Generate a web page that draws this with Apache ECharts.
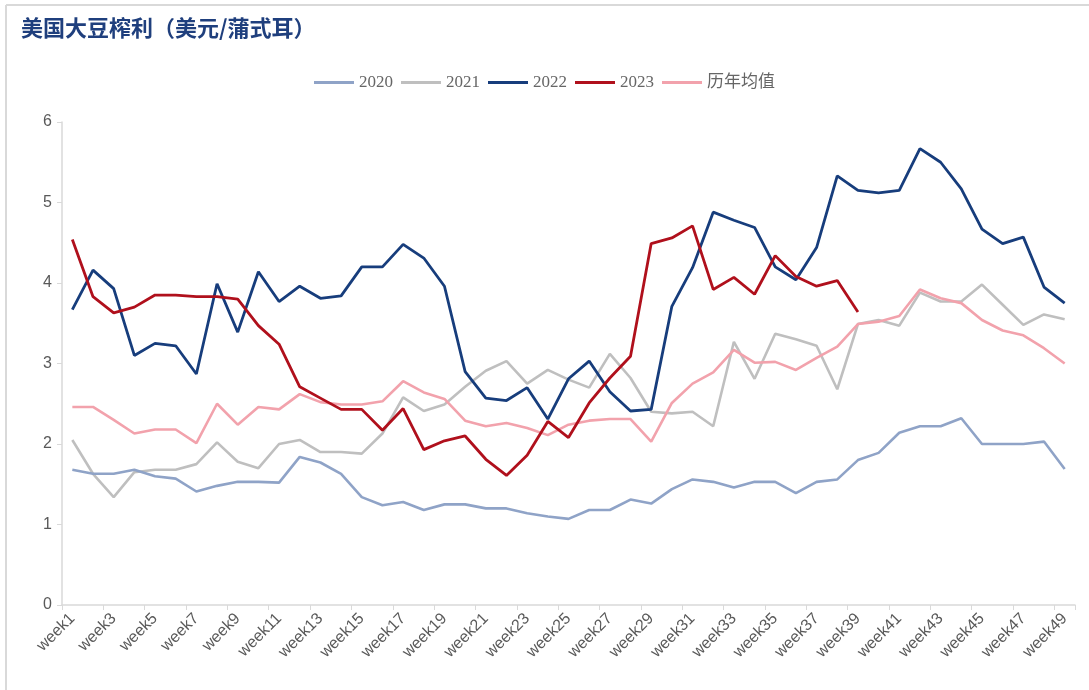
<!DOCTYPE html>
<html>
<head>
<meta charset="utf-8">
<script src="https://cdn.jsdelivr.net/npm/echarts@6/dist/echarts.min.js"></script>
<style>
html,body{margin:0;padding:0;background:#fff;}
#c{width:1089px;height:690px;}
</style>
</head>
<body>
<div id="c"></div>
<script>
const categories = Array.from({length:49}, (_, i) => 'week' + (i + 1));
const yTicks = [0, 1, 2, 3, 4, 5, 6];
const legendNames = ['2020', '2021', '2022', '2023', '历年均值'];

const s2020 = [1.68,1.63,1.63,1.68,1.60,1.57,1.41,1.48,1.53,1.53,1.52,1.84,1.77,1.63,1.34,1.24,1.28,1.18,1.25,1.25,1.20,1.20,1.14,1.10,1.07,1.18,1.18,1.31,1.26,1.44,1.56,1.53,1.46,1.53,1.53,1.39,1.53,1.56,1.80,1.89,2.14,2.22,2.22,2.32,2.00,2.00,2.00,2.03,1.69];
const s2021 = [2.05,1.63,1.34,1.65,1.68,1.68,1.75,2.02,1.78,1.70,2.00,2.05,1.90,1.90,1.88,2.13,2.58,2.41,2.49,2.71,2.91,3.03,2.75,2.92,2.80,2.70,3.12,2.82,2.40,2.38,2.40,2.22,3.27,2.81,3.37,3.30,3.22,2.68,3.49,3.54,3.47,3.88,3.77,3.77,3.98,3.73,3.48,3.61,3.55];
const s2022 = [3.67,4.16,3.93,3.10,3.25,3.22,2.87,3.99,3.39,4.14,3.77,3.96,3.81,3.84,4.20,4.20,4.48,4.31,3.96,2.90,2.57,2.54,2.70,2.31,2.81,3.03,2.65,2.41,2.43,3.71,4.19,4.88,4.78,4.69,4.20,4.04,4.44,5.33,5.15,5.12,5.15,5.67,5.50,5.17,4.67,4.49,4.57,3.95,3.75];
const s2023 = [4.54,3.83,3.63,3.70,3.85,3.85,3.83,3.83,3.80,3.47,3.24,2.71,2.57,2.43,2.43,2.17,2.44,1.93,2.04,2.10,1.81,1.61,1.86,2.28,2.08,2.51,2.82,3.09,4.49,4.56,4.71,3.92,4.07,3.86,4.34,4.08,3.96,4.03,3.64];
const sAvg = [2.46,2.46,2.30,2.13,2.18,2.18,2.01,2.50,2.24,2.46,2.43,2.62,2.52,2.49,2.49,2.53,2.78,2.64,2.56,2.29,2.22,2.26,2.20,2.11,2.24,2.29,2.31,2.31,2.03,2.51,2.75,2.89,3.17,3.01,3.02,2.92,3.07,3.21,3.49,3.52,3.59,3.92,3.81,3.75,3.54,3.41,3.35,3.19,3.00];

const colors = ['#8fa3c7', '#bfbfbf', '#173d7c', '#b0101c', '#f2a2ac'];
const seriesData = [s2020, s2021, s2022, s2023, sAvg];

const chart = echarts.init(document.getElementById('c'), null, {renderer: 'canvas'});
chart.setOption({
  backgroundColor: '#fff',
  animation: false,
  title: {
    text: '美国大豆榨利（美元/蒲式耳）',
    left: 16, top: 12,
    textStyle: {color: '#1f3f7d', fontSize: 22, fontWeight: 'bold', fontFamily: 'Noto Sans CJK SC'}
  },
  graphic: [
    {type: 'line', shape: {x1: 6, y1: 5, x2: 1089, y2: 5}, style: {stroke: '#d9d9d9', lineWidth: 2}},
    {type: 'line', shape: {x1: 6, y1: 5, x2: 6, y2: 690}, style: {stroke: '#d9d9d9', lineWidth: 2}}
  ],
  legend: {
    data: legendNames,
    top: 69, left: 'center',
    icon: 'rect', itemWidth: 40, itemHeight: 3, itemGap: 8,
    textStyle: {color: '#666666', fontSize: 17, fontFamily: 'Liberation Serif, Noto Sans CJK SC'}
  },
  grid: {left: 62, right: 14, top: 122, bottom: 85, containLabel: false},
  xAxis: {
    type: 'category',
    data: categories,
    boundaryGap: true,
    axisLine: {lineStyle: {color: '#d9d9d9', width: 1.5}},
    axisTick: {show: true, length: 5, lineStyle: {color: '#d9d9d9'}},
    axisLabel: {rotate: 45, interval: 1, color: '#595959', fontSize: 16, fontFamily: 'Liberation Sans', margin: 11}
  },
  yAxis: {
    type: 'value',
    min: yTicks[0], max: yTicks[yTicks.length - 1], interval: 1,
    axisLine: {show: true, lineStyle: {color: '#d9d9d9', width: 1.5}},
    axisTick: {show: true, length: 5, lineStyle: {color: '#d9d9d9'}},
    splitLine: {show: false},
    axisLabel: {color: '#595959', fontSize: 16, fontFamily: 'Liberation Sans', margin: 10}
  },
  series: legendNames.map((n, i) => ({
    name: n,
    type: 'line',
    data: seriesData[i],
    symbol: 'none',
    color: colors[i],
    lineStyle: {width: (i === 2 || i === 3) ? 2.8 : 2.6, color: colors[i]},
    z: [2, 1, 4, 5, 3][i]
  }))
});
</script>
</body>
</html>
